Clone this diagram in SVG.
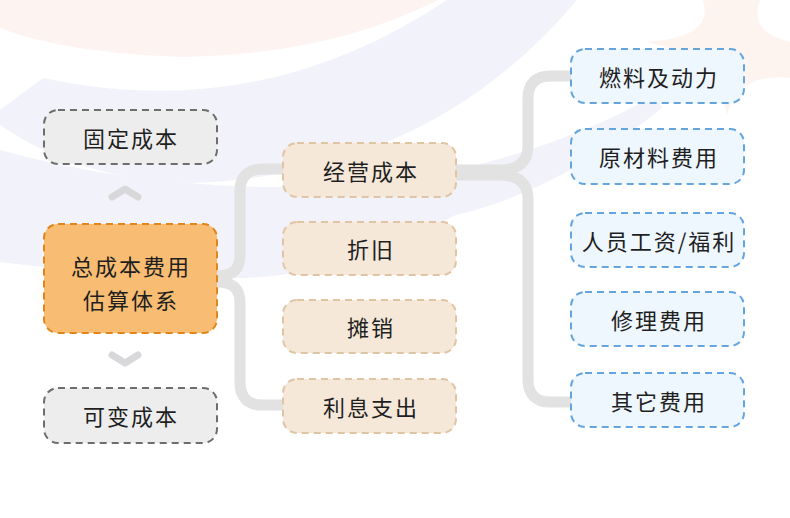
<svg xmlns="http://www.w3.org/2000/svg" width="790" height="518" viewBox="0 0 790 518">
<style>
.t{font-family:"Noto Sans CJK SC","Noto Sans",sans-serif;font-size:22px;fill:#1f1f1f;text-anchor:middle;dominant-baseline:central;letter-spacing:2px}
.n{stroke-width:2;stroke-dasharray:7 5}
.gray{fill:#ededed;stroke:#6e6e6e}
.org{fill:#f8bd72;stroke:#e0861a}
.beige{fill:#f5e8d9;stroke:#dfc5a4}
.blue{fill:#eef6fe;stroke:#65a5df}
.c{fill:none;stroke:#e2e2e2;stroke-width:11;stroke-linecap:butt}
.ch{fill:none;stroke:#d8d8db;stroke-width:7;stroke-linecap:round;stroke-linejoin:round}
</style>
<rect width="790" height="518" fill="#ffffff"/>
<g id="background">
<path d="M0,0 L0,28 Q60,52 180,57 Q330,55 438,0 Z" fill="#fdf4f2"/>
<path d="M43,78 Q260,125 447,0 L577,0 Q430,175 190,183 Q80,180 0,125 L0,110 Z" fill="#f2f2fa"/>
<path d="M0,150 Q200,205 420,178 Q560,150 655,95 L662,108 Q560,190 456,215 Q330,280 230,278 Q100,275 0,262 Z" fill="#f2f2fa"/>
<path d="M645,42 Q715,38 703,0 L760,0 Q748,32 790,42 L790,78 Q738,72 727,115 Q715,55 645,42 Z" fill="#fdf3ef"/>
</g>
<g id="connectors">
<path class="c" d="M217,276 C232,276 240,270 240,255 L240,191 C240,177 248,169 262,169 L284,169"/>
<path class="c" d="M217,282 C232,282 240,288 240,303 L240,383 C240,397 248,405 262,405 L284,405"/>
<path class="c" d="M455,170 L500,170 C518,170 528,162 528,146 L528,98 C528,84 536,76 550,76 L572,76"/>
<path class="c" d="M455,175 L500,175 C518,175 528,183 528,199 L528,380 C528,394 536,402 550,402 L572,402"/>
<path class="ch" d="M112,197 L125,189 L138,197"/>
<path class="ch" d="M112,355 L125,363 L138,355"/>
</g>
<g id="n-fixed"><rect class="n gray" x="44" y="110" width="173" height="54" rx="14"/><text class="t" x="131" y="137">固定成本</text></g>
<g id="n-total"><rect class="n org" x="44" y="224" width="173" height="109" rx="14"/><text class="t" x="131" y="265">总成本费用</text><text class="t" x="131" y="299">估算体系</text></g>
<g id="n-variable"><rect class="n gray" x="44" y="388" width="173" height="55" rx="14"/><text class="t" x="131" y="415">可变成本</text></g>
<g id="n-operating"><rect class="n beige" x="283" y="143" width="173" height="54" rx="14"/><text class="t" x="371" y="170">经营成本</text></g>
<g id="n-depreciation"><rect class="n beige" x="283" y="222" width="173" height="53" rx="14"/><text class="t" x="371" y="248">折旧</text></g>
<g id="n-amortization"><rect class="n beige" x="283" y="300" width="173" height="53" rx="14"/><text class="t" x="371" y="326">摊销</text></g>
<g id="n-interest"><rect class="n beige" x="283" y="379" width="173" height="54" rx="14"/><text class="t" x="371" y="406">利息支出</text></g>
<g id="n-fuel"><rect class="n blue" x="571" y="49" width="173" height="54" rx="14"/><text class="t" x="659" y="76">燃料及动力</text></g>
<g id="n-material"><rect class="n blue" x="571" y="129" width="173" height="55" rx="14"/><text class="t" x="659" y="156">原材料费用</text></g>
<g id="n-staff"><rect class="n blue" x="571" y="213" width="173" height="54" rx="14"/><text class="t" x="659" y="240">人员工资/福利</text></g>
<g id="n-repair"><rect class="n blue" x="571" y="292" width="173" height="54" rx="14"/><text class="t" x="659" y="319">修理费用</text></g>
<g id="n-other"><rect class="n blue" x="571" y="373" width="173" height="54" rx="14"/><text class="t" x="659" y="400">其它费用</text></g>
</svg>
